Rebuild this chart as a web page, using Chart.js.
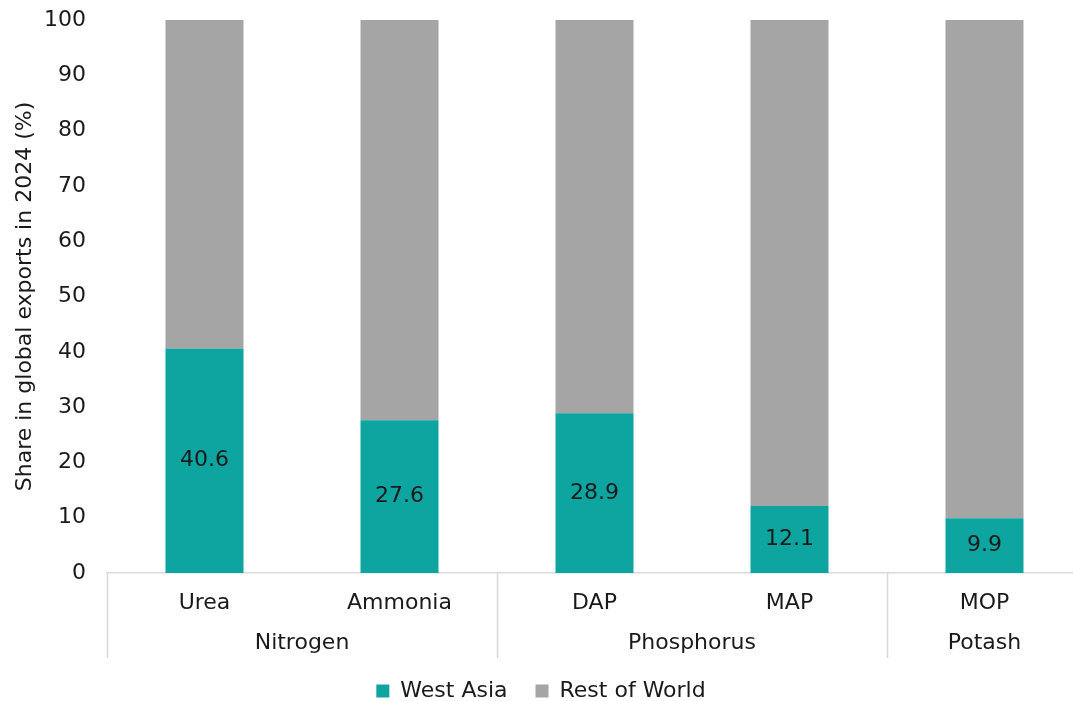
<!DOCTYPE html>
<html>
<head>
<meta charset="utf-8">
<script src="https://cdn.jsdelivr.net/npm/chart.js@4.4.1/dist/chart.umd.min.js"></script>
<style>
  html, body { margin: 0; padding: 0; overflow: hidden; background: #fff; }
  #wrap { width: 1095px; height: 701px; position: relative; }
</style>
</head>
<body>
<div id="wrap"><canvas id="c"></canvas></div>
<script>
// Fertilizer products and the nutrient group each belongs to
const products = ['Urea', 'Ammonia', 'DAP', 'MAP', 'MOP'];
const groups = ['Nitrogen', 'Phosphorus', 'Potash'];
const groupSizes = [2, 2, 1];

// Share in global exports, 2024 (%)
const westAsia = [40.6, 27.6, 28.9, 12.1, 9.9];
const restOfWorld = [59.4, 72.4, 71.1, 87.9, 90.1];

const yTicks = [0, 10, 20, 30, 40, 50, 60, 70, 80, 90, 100];

const FONT = 'DejaVu Sans';
const FS = 22;
const TEXT = '#1a1a1a';
const AXIS = '#D9D9D9';

// Centered value labels on the West Asia segments
const valueLabels = {
  id: 'valueLabels',
  afterDatasetsDraw(chart) {
    const ctx = chart.ctx;
    const meta = chart.getDatasetMeta(0);
    ctx.save();
    ctx.font = `${FS}px "${FONT}"`;
    ctx.fillStyle = TEXT;
    ctx.textAlign = 'center';
    ctx.textBaseline = 'middle';
    meta.data.forEach((bar, i) => {
      ctx.fillText(String(westAsia[i]), bar.x, (bar.y + bar.base) / 2);
    });
    ctx.restore();
  }
};

// Second level of the category axis: group names and separators
const groupAxis = {
  id: 'groupAxis',
  afterDraw(chart) {
    const ctx = chart.ctx;
    const x = chart.scales.x;
    const n = products.length;
    const step = (x.right - x.left) / n;
    const top = chart.chartArea.bottom;
    const lineBottom = top + 85;
    ctx.save();
    ctx.strokeStyle = AXIS;
    ctx.lineWidth = 1.5;
    let start = 0;
    const edges = [x.left];
    groups.forEach((g, gi) => {
      const end = start + groupSizes[gi];
      const l = x.getPixelForValue(start) - step / 2;
      const r = x.getPixelForValue(end - 1) + step / 2;
      edges.push(r);
      ctx.font = `${FS}px "${FONT}"`;
      ctx.fillStyle = TEXT;
      ctx.textAlign = 'center';
      ctx.textBaseline = 'middle';
      ctx.fillText(g, (l + r) / 2, top + 70);
      start = end;
    });
    edges.forEach(e => {
      const px = Math.round(e) + 0.5;
      ctx.beginPath();
      ctx.moveTo(px, top);
      ctx.lineTo(px, lineBottom);
      ctx.stroke();
    });
    ctx.restore();
  }
};

new Chart(document.getElementById('c'), {
  type: 'bar',
  data: {
    labels: products,
    datasets: [
      { label: 'West Asia', data: westAsia, backgroundColor: '#0EA5A0', barPercentage: 0.4, categoryPercentage: 1.0 },
      { label: 'Rest of World', data: restOfWorld, backgroundColor: '#A5A5A5', barPercentage: 0.4, categoryPercentage: 1.0 }
    ]
  },
  options: {
    responsive: true,
    maintainAspectRatio: false,
    animation: false,
    devicePixelRatio: 1,
    layout: { padding: { top: 20, right: 13, left: 0, bottom: -11 } },
    plugins: {
      legend: {
        position: 'bottom',
        labels: {
          boxWidth: 13, boxHeight: 13, padding: 28,
          color: TEXT,
          font: { family: FONT, size: FS }
        }
      },
      tooltip: { enabled: false }
    },
    scales: {
      x: {
        stacked: true,
        grid: { display: false, drawTicks: false },
        border: { color: AXIS, width: 1.5 },
        ticks: { color: TEXT, font: { family: FONT, size: FS }, padding: 17 },
        afterFit(scale) { scale.height = 79; }
      },
      y: {
        stacked: true,
        min: 0, max: 100,
        grid: { display: false, drawTicks: false },
        border: { display: false },
        afterBuildTicks(scale) { scale.ticks = yTicks.map(v => ({ value: v })); },
        ticks: { color: TEXT, font: { family: FONT, size: FS }, padding: 21 },
        title: {
          display: true,
          text: 'Share in global exports in 2024 (%)',
          color: TEXT,
          font: { family: FONT, size: 22 },
          padding: { top: 12, bottom: 4 }
        },
        afterFit(scale) {
          scale.width = 107;
          scale.paddingTop = 0;
          scale.paddingBottom = 0;
        }
      }
    }
  },
  plugins: [valueLabels, groupAxis]
});
</script>
</body>
</html>
